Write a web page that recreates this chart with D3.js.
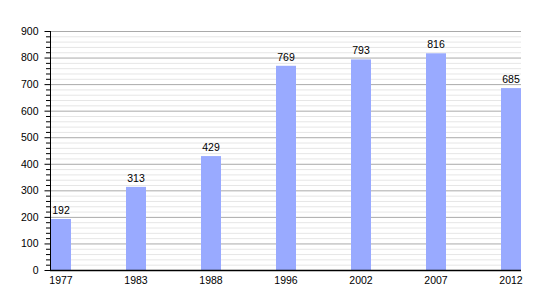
<!DOCTYPE html>
<html><head><meta charset="utf-8">
<script src="https://cdn.jsdelivr.net/npm/d3@7"></script>
<style>body{margin:0;background:#fff}text{font-family:"Liberation Sans",Arial,sans-serif;font-size:10.5px;fill:#000}</style>
</head><body>
<svg id="c" width="550" height="300"></svg>
<script>
const years = ["1977","1983","1988","1996","2002","2007","2012"];
const population = [192,313,429,769,793,816,685];
const yTicks = [0,100,200,300,400,500,600,700,800,900];

const svg = d3.select("#c");
const x = d3.scaleBand().domain(years).range([51,521]).paddingInner(55/75).paddingOuter(0);
const y = d3.scaleLinear().domain([0,900]).range([270,31]);

const minor = d3.range(0,901,20).filter(v=>v%100!==0);
svg.append("g").selectAll("line").data(minor).join("line")
  .attr("x1",50).attr("x2",521).attr("y1",d=>y(d)+0.5).attr("y2",d=>y(d)+0.5)
  .attr("stroke","#e6e6e6").attr("stroke-width",1);
svg.append("g").selectAll("line").data(yTicks.filter(v=>v>0)).join("line")
  .attr("x1",50).attr("x2",521).attr("y1",d=>y(d)+0.5).attr("y2",d=>y(d)+0.5)
  .attr("stroke","#aaaaaa").attr("stroke-width",1);

svg.append("g").selectAll("rect").data(population).join("rect")
  .attr("x",(d,i)=>x(years[i])).attr("width",x.bandwidth())
  .attr("y",d=>y(d)).attr("height",d=>y(0)-y(d)).attr("fill","#99aaff");

svg.append("g").selectAll("text").data(population).join("text")
  .attr("x",(d,i)=>x(years[i])+x.bandwidth()/2).attr("y",d=>y(d)-5)
  .attr("text-anchor","middle").text(d=>d);

// y axis
const ya = svg.append("g").attr("transform","translate(50.5,0)")
  .call(d3.axisLeft(y).tickValues(yTicks).tickSize(6).tickPadding(6).tickFormat(d3.format("d")));
ya.select(".domain").attr("d","M0,31V270");
ya.selectAll("text").style("font-size","10.5px").attr("fill","#000");
ya.selectAll("line").attr("stroke","#000");
svg.append("g").selectAll("line").data(minor).join("line")
  .attr("x1",46).attr("x2",50).attr("y1",d=>y(d)+0.5).attr("y2",d=>y(d)+0.5)
  .attr("stroke","#000");

// x axis
const xa = svg.append("g").attr("transform","translate(0,270.5)")
  .call(d3.axisBottom(x).tickSize(0).tickPadding(6));
xa.select(".domain").attr("d","M50,0H521").attr("stroke","#000").attr("stroke-width",1.5);
xa.selectAll("text").style("font-size","10.5px").attr("fill","#000");
</script>
</body></html>
